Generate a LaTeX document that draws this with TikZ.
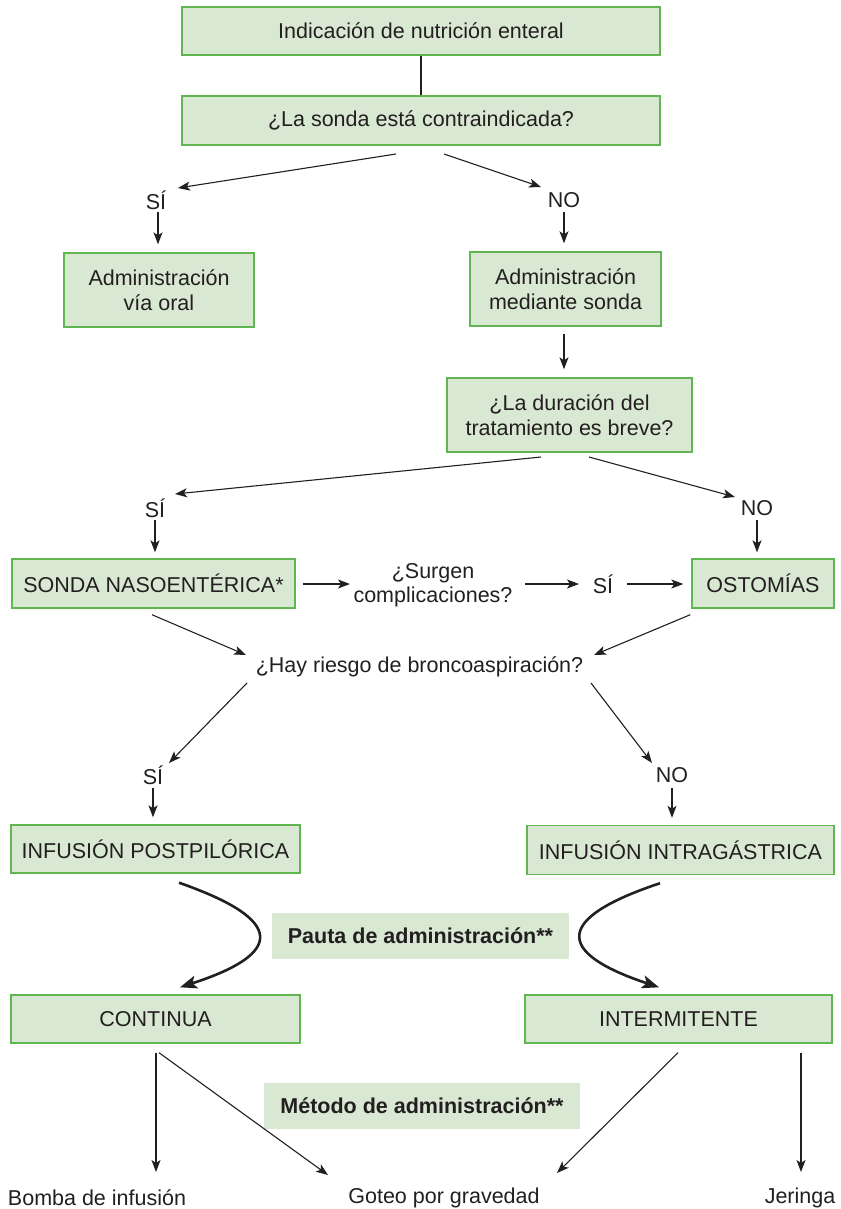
\documentclass[tikz,border=0pt]{standalone}
\usepackage{fontspec}
\setmainfont{Liberation Sans}
\usetikzlibrary{arrows.meta,calc}
\definecolor{boxfill}{RGB}{216,232,210}
\definecolor{boxline}{RGB}{96,182,80}
\definecolor{txt}{RGB}{35,31,32}
\begin{document}
\begin{tikzpicture}[x=1pt,y=-1pt,
  font=\fontsize{21.5}{24.5}\selectfont, text=txt,
  box/.style={draw=boxline, fill=boxfill, line width=1.4pt, inner sep=0pt, align=center},
  plain/.style={inner sep=0pt, align=center},
  note/.style={fill=boxfill, inner sep=0pt, font=\fontsize{21.5}{24.5}\selectfont\bfseries},
  arr/.style={draw=txt, line width=1.1pt, -{Stealth[length=12pt,width=9pt,inset=3pt]}},
  curv/.style={draw=txt, line width=2.6pt, -{Stealth[length=17pt,width=13pt,inset=4pt]}}]
\useasboundingbox (0,0) rectangle (840,1209);

% boxes
\node[box, minimum width=478pt, minimum height=48pt] (b1) at (421,31) {Indicación de nutrición enteral};
\node[box, minimum width=478pt, minimum height=49pt] (b2) at (421,120.5) {¿La sonda está contraindicada?};
\node[plain] (si1) at (156,200) {SÍ};
\node[plain] (no1) at (564,200) {NO};
\node[box, minimum width=190pt, minimum height=74pt] (oral) at (159,290) {Administración\\vía oral};
\node[box, minimum width=191pt, minimum height=74pt] (sonda) at (565.5,289) {Administración\\mediante sonda};
\node[box, minimum width=245pt, minimum height=74pt] (dur) at (569.5,415) {¿La duración del\\tratamiento es breve?};
\node[plain] (si2) at (155,508) {SÍ};
\node[plain] (no2) at (757,508) {NO};
\node[box, minimum width=283pt, minimum height=49pt] (sne) at (153.5,583.5) {SONDA NASOENTÉRICA*};
\node[plain] (surgen) at (433,585) {¿Surgen\\complicaciones?};
\node[plain] (si3) at (603,584) {SÍ};
\node[box, minimum width=142pt, minimum height=49pt] (ost) at (763,583.5) {OSTOMÍAS};
\node[plain] (hay) at (419.5,667) {¿Hay riesgo de broncoaspiración?};
\node[plain] (si4) at (153,775) {SÍ};
\node[plain] (no4) at (672,775) {NO};
\node[box, minimum width=289pt, minimum height=48pt] (post) at (155.5,849) {INFUSIÓN POSTPILÓRICA};
\node[box, minimum width=307pt, minimum height=49pt] (intra) at (680.5,850) {INFUSIÓN INTRAGÁSTRICA};
\node[note, minimum width=297pt, minimum height=46pt] (pauta) at (420.5,936) {Pauta de administración**};
\node[box, minimum width=289pt, minimum height=48pt] (cont) at (155.5,1019) {CONTINUA};
\node[box, minimum width=307pt, minimum height=48pt] (inter) at (678.5,1019) {INTERMITENTE};
\node[note, minimum width=316pt, minimum height=46pt] (metodo) at (422,1106) {Método de administración**};
\node[plain] (bomba) at (97,1198) {Bomba de infusión};
\node[plain] (goteo) at (444,1198) {Goteo por gravedad};
\node[plain] (jeringa) at (800,1198) {Jeringa};

% connectors
\draw[draw=txt, line width=1.1pt] (b1.south) -- (b2.north);
\draw[arr] ($(b2)+(-25,33.5)$) -- ($(si1)+(22,-12)$);
\draw[arr] ($(b2)+(23,33.5)$) -- ($(no1)+(-23,-13)$);
\draw[arr] ($(si1)+(2,12)$) -- ($(oral.north)+(-1,-8)$);
\draw[arr] ($(no1)+(0,12)$) -- ($(sonda.north)+(-1.5,-8)$);
\draw[arr] ($(sonda.south)+(-1.5,7)$) -- ($(dur.north)+(-5.5,-8)$);
\draw[arr] ($(dur)+(-28.5,42)$) -- ($(si2)+(20,-14)$);
\draw[arr] ($(dur)+(19.5,42)$) -- ($(no2)+(-22,-11)$);
\draw[arr] ($(si2)+(0,12)$) -- ($(sne.north)+(1.5,-6)$);
\draw[arr] ($(no2)+(0,12)$) -- ($(ost.north)+(-6,-6)$);
\draw[arr] ($(sne.east)+(7,0.5)$) -- ($(surgen)+(-83,-1)$);
\draw[arr] ($(surgen)+(92,-1)$) -- ($(si3)+(-24,0)$);
\draw[arr] ($(si3)+(24,0)$) -- ($(ost.west)+(-8,0.5)$);
\draw[arr] ($(sne.south)+(-1.5,6)$) -- ($(hay)+(-173.5,-12)$);
\draw[arr] ($(ost.south west)+(-1,6)$) -- ($(hay)+(174.5,-12)$);
\draw[arr] ($(hay)+(-172.5,16)$) -- ($(si4)+(16,-12)$);
\draw[arr] ($(hay)+(171.5,16)$) -- ($(no4)+(-20,-12)$);
\draw[arr] ($(si4)+(0,13)$) -- ($(post.north)+(-2.5,-7)$);
\draw[arr] ($(no4)+(0,13)$) -- ($(no4 |- intra.north)+(0,-7)$);
\draw[curv] ($(post.south)+(23.5,9)$) .. controls +(106,37) and +(105,-34) .. ($(cont.north)+(24.5,-7)$);
\draw[curv] ($(intra.south)+(-20.5,8)$) .. controls +(-105,35) and +(-105,-35) .. ($(inter.north)+(-19.5,-7)$);
\draw[arr] ($(cont.south)+(0.5,9)$) -- ($(bomba)+(59,-26)$);
\draw[arr] ($(cont.south)+(3.5,9)$) -- ($(goteo)+(-116,-23)$);
\draw[arr] ($(inter.south)+(-0.5,9)$) -- ($(goteo)+(113,-25)$);
\draw[arr] ($(inter.south)+(122.5,9)$) -- ($(jeringa)+(1,-26)$);
\end{tikzpicture}
\end{document}
